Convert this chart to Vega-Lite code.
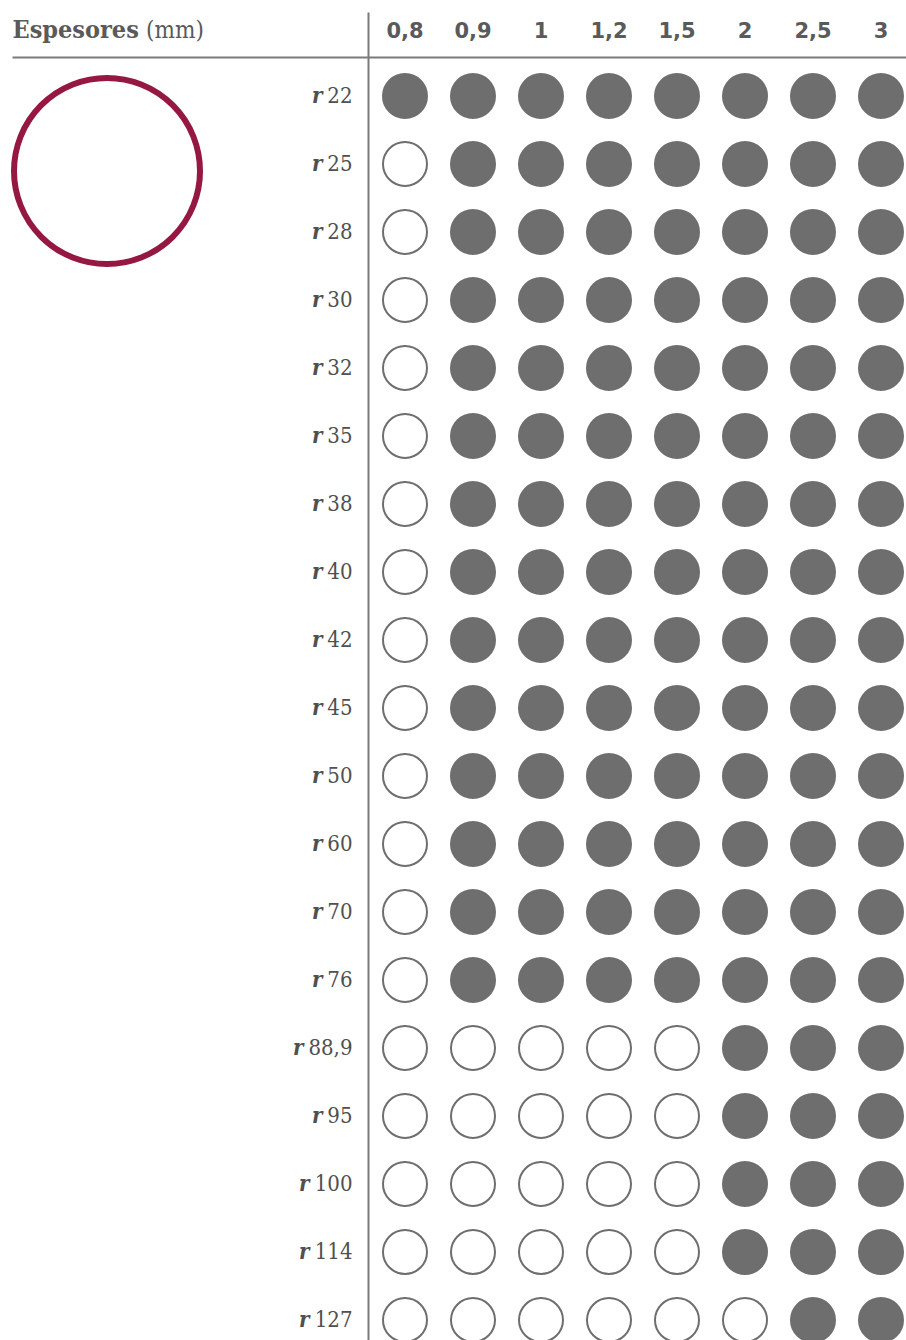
{
  "$schema": "https://vega.github.io/schema/vega-lite/v6.json",
  "padding": {"left": 2, "top": 12, "right": 0, "bottom": 0},
  "background": "white",
  "bounds": "flush",
  "spacing": 0,
  "resolve": {"scale": {"y": "shared"}},
  "config": {"view": {"stroke": null}, "axis": {"grid": false}},
  "hconcat": [
    {
      "width": 356,
      "height": 1328,
      "data": {"values": [{"forma": "perfil", "r": "25"}]},
      "mark": {"type": "point", "shape": "circle", "filled": false, "size": 34596, "stroke": "#951842", "strokeWidth": 6, "opacity": 1},
      "encoding": {
        "x": {
          "field": "forma", "type": "nominal",
          "scale": {"type": "band", "paddingInner": 0, "paddingOuter": 0.4368, "align": 0},
          "axis": {
            "orient": "top", "offset": -45, "ticks": false, "tickSize": 0,
            "domain": true, "domainColor": "#7a7a7a", "domainWidth": 2,
            "labelExpr": "'(mm)'", "labelAlign": "left", "labelOffset": 39, "labelAngle": 0,
            "labelBaseline": "alphabetic", "labelPadding": 20,
            "labelFont": "DejaVu Serif Condensed", "labelFontSize": 24, "labelColor": "#5a5a5a",
            "title": "Espesores", "titleX": 0, "titleY": -20, "titleAlign": "left", "titleAnchor": "start",
            "titleBaseline": "alphabetic", "titleAngle": 0,
            "titleFont": "DejaVu Serif Condensed", "titleFontSize": 25, "titleFontWeight": "bold", "titleColor": "#5a5a5a"
          }
        },
        "y": {
          "field": "r", "type": "nominal", "bandPosition": 0.675,
          "scale": {"type": "band", "domain": ["22","25","28","30","32","35","38","40","42","45","50","60","70","76","88,9","95","100","114","127"], "paddingInner": 0.4118, "paddingOuter": 0.4706, "align": 1},
          "axis": null
        }
      }
    },
    {
      "width": 538,
      "height": 1328,
      "data": {"values": [
        {"r":"22","e":"0,8","d":"sí"},{"r":"22","e":"0,9","d":"sí"},{"r":"22","e":"1","d":"sí"},{"r":"22","e":"1,2","d":"sí"},{"r":"22","e":"1,5","d":"sí"},{"r":"22","e":"2","d":"sí"},{"r":"22","e":"2,5","d":"sí"},{"r":"22","e":"3","d":"sí"},
        {"r":"25","e":"0,8","d":"no"},{"r":"25","e":"0,9","d":"sí"},{"r":"25","e":"1","d":"sí"},{"r":"25","e":"1,2","d":"sí"},{"r":"25","e":"1,5","d":"sí"},{"r":"25","e":"2","d":"sí"},{"r":"25","e":"2,5","d":"sí"},{"r":"25","e":"3","d":"sí"},
        {"r":"28","e":"0,8","d":"no"},{"r":"28","e":"0,9","d":"sí"},{"r":"28","e":"1","d":"sí"},{"r":"28","e":"1,2","d":"sí"},{"r":"28","e":"1,5","d":"sí"},{"r":"28","e":"2","d":"sí"},{"r":"28","e":"2,5","d":"sí"},{"r":"28","e":"3","d":"sí"},
        {"r":"30","e":"0,8","d":"no"},{"r":"30","e":"0,9","d":"sí"},{"r":"30","e":"1","d":"sí"},{"r":"30","e":"1,2","d":"sí"},{"r":"30","e":"1,5","d":"sí"},{"r":"30","e":"2","d":"sí"},{"r":"30","e":"2,5","d":"sí"},{"r":"30","e":"3","d":"sí"},
        {"r":"32","e":"0,8","d":"no"},{"r":"32","e":"0,9","d":"sí"},{"r":"32","e":"1","d":"sí"},{"r":"32","e":"1,2","d":"sí"},{"r":"32","e":"1,5","d":"sí"},{"r":"32","e":"2","d":"sí"},{"r":"32","e":"2,5","d":"sí"},{"r":"32","e":"3","d":"sí"},
        {"r":"35","e":"0,8","d":"no"},{"r":"35","e":"0,9","d":"sí"},{"r":"35","e":"1","d":"sí"},{"r":"35","e":"1,2","d":"sí"},{"r":"35","e":"1,5","d":"sí"},{"r":"35","e":"2","d":"sí"},{"r":"35","e":"2,5","d":"sí"},{"r":"35","e":"3","d":"sí"},
        {"r":"38","e":"0,8","d":"no"},{"r":"38","e":"0,9","d":"sí"},{"r":"38","e":"1","d":"sí"},{"r":"38","e":"1,2","d":"sí"},{"r":"38","e":"1,5","d":"sí"},{"r":"38","e":"2","d":"sí"},{"r":"38","e":"2,5","d":"sí"},{"r":"38","e":"3","d":"sí"},
        {"r":"40","e":"0,8","d":"no"},{"r":"40","e":"0,9","d":"sí"},{"r":"40","e":"1","d":"sí"},{"r":"40","e":"1,2","d":"sí"},{"r":"40","e":"1,5","d":"sí"},{"r":"40","e":"2","d":"sí"},{"r":"40","e":"2,5","d":"sí"},{"r":"40","e":"3","d":"sí"},
        {"r":"42","e":"0,8","d":"no"},{"r":"42","e":"0,9","d":"sí"},{"r":"42","e":"1","d":"sí"},{"r":"42","e":"1,2","d":"sí"},{"r":"42","e":"1,5","d":"sí"},{"r":"42","e":"2","d":"sí"},{"r":"42","e":"2,5","d":"sí"},{"r":"42","e":"3","d":"sí"},
        {"r":"45","e":"0,8","d":"no"},{"r":"45","e":"0,9","d":"sí"},{"r":"45","e":"1","d":"sí"},{"r":"45","e":"1,2","d":"sí"},{"r":"45","e":"1,5","d":"sí"},{"r":"45","e":"2","d":"sí"},{"r":"45","e":"2,5","d":"sí"},{"r":"45","e":"3","d":"sí"},
        {"r":"50","e":"0,8","d":"no"},{"r":"50","e":"0,9","d":"sí"},{"r":"50","e":"1","d":"sí"},{"r":"50","e":"1,2","d":"sí"},{"r":"50","e":"1,5","d":"sí"},{"r":"50","e":"2","d":"sí"},{"r":"50","e":"2,5","d":"sí"},{"r":"50","e":"3","d":"sí"},
        {"r":"60","e":"0,8","d":"no"},{"r":"60","e":"0,9","d":"sí"},{"r":"60","e":"1","d":"sí"},{"r":"60","e":"1,2","d":"sí"},{"r":"60","e":"1,5","d":"sí"},{"r":"60","e":"2","d":"sí"},{"r":"60","e":"2,5","d":"sí"},{"r":"60","e":"3","d":"sí"},
        {"r":"70","e":"0,8","d":"no"},{"r":"70","e":"0,9","d":"sí"},{"r":"70","e":"1","d":"sí"},{"r":"70","e":"1,2","d":"sí"},{"r":"70","e":"1,5","d":"sí"},{"r":"70","e":"2","d":"sí"},{"r":"70","e":"2,5","d":"sí"},{"r":"70","e":"3","d":"sí"},
        {"r":"76","e":"0,8","d":"no"},{"r":"76","e":"0,9","d":"sí"},{"r":"76","e":"1","d":"sí"},{"r":"76","e":"1,2","d":"sí"},{"r":"76","e":"1,5","d":"sí"},{"r":"76","e":"2","d":"sí"},{"r":"76","e":"2,5","d":"sí"},{"r":"76","e":"3","d":"sí"},
        {"r":"88,9","e":"0,8","d":"no"},{"r":"88,9","e":"0,9","d":"no"},{"r":"88,9","e":"1","d":"no"},{"r":"88,9","e":"1,2","d":"no"},{"r":"88,9","e":"1,5","d":"no"},{"r":"88,9","e":"2","d":"sí"},{"r":"88,9","e":"2,5","d":"sí"},{"r":"88,9","e":"3","d":"sí"},
        {"r":"95","e":"0,8","d":"no"},{"r":"95","e":"0,9","d":"no"},{"r":"95","e":"1","d":"no"},{"r":"95","e":"1,2","d":"no"},{"r":"95","e":"1,5","d":"no"},{"r":"95","e":"2","d":"sí"},{"r":"95","e":"2,5","d":"sí"},{"r":"95","e":"3","d":"sí"},
        {"r":"100","e":"0,8","d":"no"},{"r":"100","e":"0,9","d":"no"},{"r":"100","e":"1","d":"no"},{"r":"100","e":"1,2","d":"no"},{"r":"100","e":"1,5","d":"no"},{"r":"100","e":"2","d":"sí"},{"r":"100","e":"2,5","d":"sí"},{"r":"100","e":"3","d":"sí"},
        {"r":"114","e":"0,8","d":"no"},{"r":"114","e":"0,9","d":"no"},{"r":"114","e":"1","d":"no"},{"r":"114","e":"1,2","d":"no"},{"r":"114","e":"1,5","d":"no"},{"r":"114","e":"2","d":"sí"},{"r":"114","e":"2,5","d":"sí"},{"r":"114","e":"3","d":"sí"},
        {"r":"127","e":"0,8","d":"no"},{"r":"127","e":"0,9","d":"no"},{"r":"127","e":"1","d":"no"},{"r":"127","e":"1,2","d":"no"},{"r":"127","e":"1,5","d":"no"},{"r":"127","e":"2","d":"no"},{"r":"127","e":"2,5","d":"sí"},{"r":"127","e":"3","d":"sí"}
      ]},
      "resolve": {"axis": {"y": "independent"}},
      "layer": [
        {
          "mark": {"type": "point", "shape": "circle", "filled": true, "size": 1936, "stroke": "#6e6e6e", "strokeWidth": 2, "opacity": 1},
          "encoding": {
            "x": {
              "field": "e", "type": "ordinal",
              "scale": {"type": "band", "domain": ["0,8","0,9","1","1,2","1,5","2","2,5","3"], "paddingInner": 0.2647, "paddingOuter": 0.0882, "align": 1},
              "axis": {
                "orient": "top", "offset": -45, "title": null, "ticks": false, "tickSize": 0,
                "domain": true, "domainColor": "#7a7a7a", "domainWidth": 2,
                "labelFont": "DejaVu Sans", "labelFontWeight": "bold", "labelFontSize": 21, "labelColor": "#5a5a5a",
                "labelPadding": 20, "labelBaseline": "alphabetic", "labelAngle": 0, "labelAlign": "center"
              }
            },
            "y": {
              "field": "r", "type": "nominal",
              "scale": {"type": "band", "domain": ["22","25","28","30","32","35","38","40","42","45","50","60","70","76","88,9","95","100","114","127"], "paddingInner": 0.4118, "paddingOuter": 0.4706, "align": 1},
              "axis": {
                "orient": "left", "title": null, "ticks": false, "tickSize": 0,
                "domain": true, "domainColor": "#7a7a7a", "domainWidth": 2,
                "labelPadding": 16, "labelFont": "DejaVu Serif Condensed", "labelFontSize": 22, "labelColor": "#505050",
                "labelAlign": "right", "labelBaseline": "middle"
              }
            },
            "fill": {
              "field": "d", "type": "nominal",
              "scale": {"domain": ["sí", "no"], "range": ["#6e6e6e", "#ffffff"]},
              "legend": null
            }
          }
        },
        {
          "mark": {"type": "text", "text": ""},
          "encoding": {
            "y": {
              "field": "r", "type": "nominal",
              "scale": {"type": "band", "domain": ["22","25","28","30","32","35","38","40","42","45","50","60","70","76","88,9","95","100","114","127"], "paddingInner": 0.4118, "paddingOuter": 0.4706, "align": 1},
              "axis": {
                "orient": "left", "title": null, "ticks": false, "tickSize": 0, "domain": false,
                "labelFont": "DejaVu Serif Condensed", "labelFontSize": 22,
                "labelFontStyle": "italic", "labelFontWeight": "bold", "labelColor": "#505050",
                "labelAlign": "right", "labelBaseline": "middle",
                "labelExpr": "'r'",
                "labelPadding": {"condition": [
                  {"test": "datum.value == '88,9'", "value": 65},
                  {"test": "length(datum.value) == 3", "value": 59}
                ], "value": 46}
              }
            }
          }
        }
      ]
    }
  ]
}
